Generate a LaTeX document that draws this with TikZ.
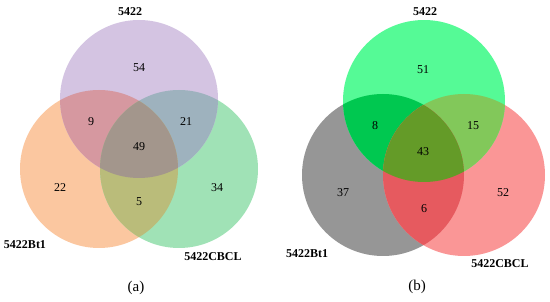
\documentclass[tikz,border=0pt]{standalone}
\usepackage{fontspec}
\setmainfont{Liberation Serif}
\usepackage{xcolor}
\usepackage{tikz}
\usetikzlibrary{positioning}

% --- panel (a) colours ---
\definecolor{aTop}{RGB}{212,196,226}
\definecolor{aLft}{RGB}{251,199,160}
\definecolor{aRgt}{RGB}{160,226,182}
\definecolor{aTL}{RGB}{214,152,160}
\definecolor{aTR}{RGB}{158,178,190}
\definecolor{aLR}{RGB}{186,188,122}
\definecolor{aAll}{RGB}{163,150,140}
% --- panel (b) colours ---
\definecolor{bTop}{RGB}{85,250,150}
\definecolor{bLft}{RGB}{150,150,150}
\definecolor{bRgt}{RGB}{250,150,150}
\definecolor{bTL}{RGB}{0,200,80}
\definecolor{bTR}{RGB}{130,200,90}
\definecolor{bLR}{RGB}{230,90,95}
\definecolor{bAll}{RGB}{100,155,40}

\begin{document}
\begin{tikzpicture}[
        x=1pt, y=-1pt,
        setname/.style={font=\fontsize{12}{14}\selectfont\bfseries, inner sep=0pt},
        count/.style  ={font=\fontsize{12}{14}\selectfont, inner sep=0pt},
        caption/.style={font=\fontsize{15}{18}\selectfont, inner sep=0pt},
    ]
        \useasboundingbox (0,0) rectangle (550,302);

        % ===================== Panel (a) =====================
        \def\aTopC{(139,99) circle[radius=79]}
        \def\aLftC{(99,169) circle[radius=79]}
        \def\aRgtC{(179,169) circle[radius=79]}
        \fill[aLft] \aLftC;
        \fill[aRgt] \aRgtC;
        \fill[aTop] \aTopC;
        \begin{scope} \clip \aTopC; \fill[aTL] \aLftC; \fill[aTR] \aRgtC; \end{scope}
        \begin{scope} \clip \aLftC; \fill[aLR] \aRgtC; \end{scope}
        \begin{scope} \clip \aTopC; \clip \aLftC; \fill[aAll] \aRgtC; \end{scope}

        \node[setname] (aT) at (130,12)  {5422};
        \node[setname] (aL) at (25,245)  {5422Bt1};
        \node[setname] (aR) at (213,257) {5422CBCL};

        \node[count] (a54) at (139,68)  {54};
        \node[count] (a9)  at (91,122)  {9};
        \node[count] (a21) at (186,122) {21};
        \node[count] (a49) at (139,147) {49};
        \node[count] (a22) at (60,188)  {22};
        \node[count] (a5)  at (139,202) {5};
        \node[count] (a34) at (217,188) {34};

        \node[caption] (capA) at (136,288) {(a)};

        % ===================== Panel (b) =====================
        \def\bTopC{(424,101) circle[radius=81]}
        \def\bLftC{(383,175) circle[radius=81]}
        \def\bRgtC{(464,175) circle[radius=81]}
        \fill[bLft] \bLftC;
        \fill[bRgt] \bRgtC;
        \fill[bTop] \bTopC;
        \begin{scope} \clip \bTopC; \fill[bTL] \bLftC; \fill[bTR] \bRgtC; \end{scope}
        \begin{scope} \clip \bLftC; \fill[bLR] \bRgtC; \end{scope}
        \begin{scope} \clip \bTopC; \clip \bLftC; \fill[bAll] \bRgtC; \end{scope}

        \node[setname] (bT) at (425,12)  {5422};
        \node[setname] (bL) at (307,254) {5422Bt1};
        \node[setname] (bR) at (500,264) {5422CBCL};

        \node[count] (b51) at (423,70)  {51};
        \node[count] (b8)  at (375,126) {8};
        \node[count] (b15) at (473,126) {15};
        \node[count] (b43) at (423,152) {43};
        \node[count] (b37) at (343,193) {37};
        \node[count] (b6)  at (424,209) {6};
        \node[count] (b52) at (503,193) {52};

        \node[caption] (capB) at (417,287) {(b)};
    \end{tikzpicture}
\end{document}
